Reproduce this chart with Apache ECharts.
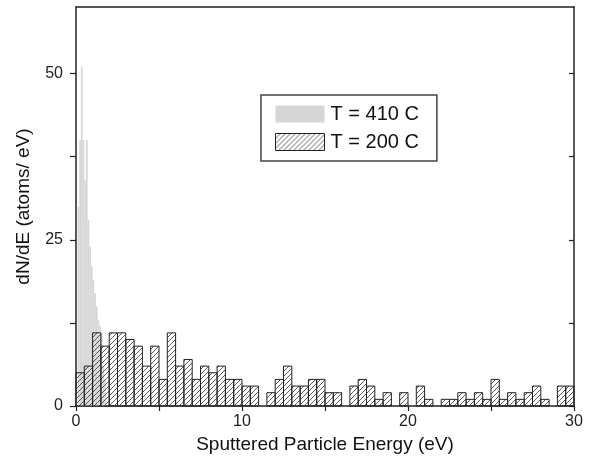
<!DOCTYPE html>
<html>
<head>
<meta charset="utf-8">
<script src="https://cdn.jsdelivr.net/npm/echarts@6/dist/echarts.min.js"></script>
<style>html,body{margin:0;padding:0;background:#fff}#c{width:593px;height:462px}</style>
</head>
<body>
<div id="c"></div>
<script>
// T = 410 C : fine bins of 0.1 eV starting at 0
var hotBinWidth = 0.1;
var hotValues = [0, 30, 40, 51, 40, 34, 40, 28, 24, 21, 19, 17, 15, 13, 12, 11, 6, 4];
// T = 200 C : bins of 0.5 eV starting at 0
var coldBinWidth = 0.5;
var coldValues = [5, 6, 11, 9, 11, 11, 10, 9, 6, 9,
                  4, 11, 6, 7, 4, 6, 5, 6, 4, 4,
                  3, 3, 0, 2, 4, 6, 3, 3, 4, 4,
                  2, 2, 0, 3, 4, 3, 1, 2, 0, 2,
                  0, 3, 1, 0, 1, 1, 2, 1, 2, 1,
                  4, 1, 2, 1, 2, 3, 1, 0, 3, 3];
var xTickValues = [0, 5, 10, 15, 20, 25, 30];
var xLabelValues = [0, 10, 20, 30];
var yTickValues = [0, 12.5, 25, 37.5, 50];
var yLabelValues = [0, 25, 50];
var seriesNames = ['T = 410 C', 'T = 200 C'];

function makeHatch() {
  var c = document.createElement('canvas');
  c.width = 5; c.height = 5;
  var g = c.getContext('2d');
  g.strokeStyle = '#333';
  g.lineWidth = 0.8;
  g.beginPath();
  g.moveTo(-1, 6); g.lineTo(6, -1);
  g.moveTo(-1, 1); g.lineTo(1, -1);
  g.moveTo(4, 6); g.lineTo(6, 4);
  g.stroke();
  return c;
}
var hatch = {image: makeHatch(), repeat: 'repeat'};

function toData(vals, w) {
  return vals.map(function (v, i) { return [i * w, (i + 1) * w, v]; });
}

function renderBar(fill, stroke) {
  return function (params, api) {
    var v = api.value(2);
    if (!v) return null;
    var p0 = api.coord([api.value(0), 0]);
    var p1 = api.coord([api.value(1), v]);
    return {
      type: 'rect',
      shape: {x: p0[0], y: p1[1], width: p1[0] - p0[0], height: p0[1] - p1[1]},
      style: {fill: fill, stroke: stroke, lineWidth: stroke ? 1 : 0}
    };
  };
}

var chart = echarts.init(document.getElementById('c'));
var font = 'Liberation Sans, Arial, sans-serif';
chart.setOption({
  animation: false,
  grid: {left: 76, right: 19, top: 7, bottom: 56},
  legend: {
    orient: 'vertical', left: 261, top: 95,
    data: [
      {name: seriesNames[0], icon: 'rect', itemStyle: {color: '#d6d6d6'}},
      {name: seriesNames[1], icon: 'rect', itemStyle: {color: hatch, borderColor: '#222', borderWidth: 1}}
    ],
    itemWidth: 49, itemHeight: 17, itemGap: 8,
    padding: [9, 18, 9, 14],
    borderColor: '#444', borderWidth: 1.5, borderRadius: 0,
    textStyle: {fontFamily: font, fontSize: 20, lineHeight: 17, color: '#111', padding: [0, 0, 0, 1]}
  },
  xAxis: [{
    type: 'value', min: 0, max: 30, interval: 5,
    name: 'Sputtered Particle Energy (eV)', nameLocation: 'middle', nameGap: 27,
    nameTextStyle: {fontFamily: font, fontSize: 19, color: '#111'},
    axisLine: {lineStyle: {color: '#222', width: 1.5}},
    axisTick: {length: 5, customValues: xTickValues, lineStyle: {color: '#222', width: 1.2}},
    axisLabel: {fontFamily: font, fontSize: 16, color: '#222', margin: 8, customValues: xLabelValues},
    splitLine: {show: false}
  }, {
    type: 'value', min: 0, max: 30, interval: 5, position: 'top',
    axisLine: {show: true, onZero: false, lineStyle: {color: '#222', width: 1.5}},
    axisTick: {show: false}, axisLabel: {show: false}, splitLine: {show: false}
  }],
  yAxis: [{
    type: 'value', min: 0, max: 60, interval: 12.5,
    name: 'dN/dE (atoms/ eV)', nameLocation: 'middle', nameGap: 43,
    nameTextStyle: {fontFamily: font, fontSize: 19, color: '#111'},
    axisLine: {show: true, lineStyle: {color: '#222', width: 1.5}},
    axisTick: {length: 6, customValues: yTickValues, lineStyle: {color: '#222', width: 1.2}},
    axisLabel: {fontFamily: font, fontSize: 16, color: '#222', margin: 13, customValues: yLabelValues},
    splitLine: {show: false}
  }, {
    type: 'value', min: 0, max: 60, interval: 12.5, position: 'right',
    axisLine: {show: true, onZero: false, lineStyle: {color: '#222', width: 1.5}},
    axisTick: {inside: true, length: 5, customValues: yTickValues, lineStyle: {color: '#222', width: 1.2}},
    axisLabel: {show: false}, splitLine: {show: false}
  }],
  series: [{
    name: seriesNames[0], type: 'custom',
    renderItem: renderBar('#d6d6d6', null),
    encode: {x: [0, 1], y: 2},
    itemStyle: {color: '#d6d6d6'},
    data: toData(hotValues, hotBinWidth), z: 2
  }, {
    name: seriesNames[1], type: 'custom',
    renderItem: renderBar(hatch, '#222'),
    encode: {x: [0, 1], y: 2},
    itemStyle: {color: '#888'},
    data: toData(coldValues, coldBinWidth), z: 3
  }]
});
</script>
</body>
</html>
